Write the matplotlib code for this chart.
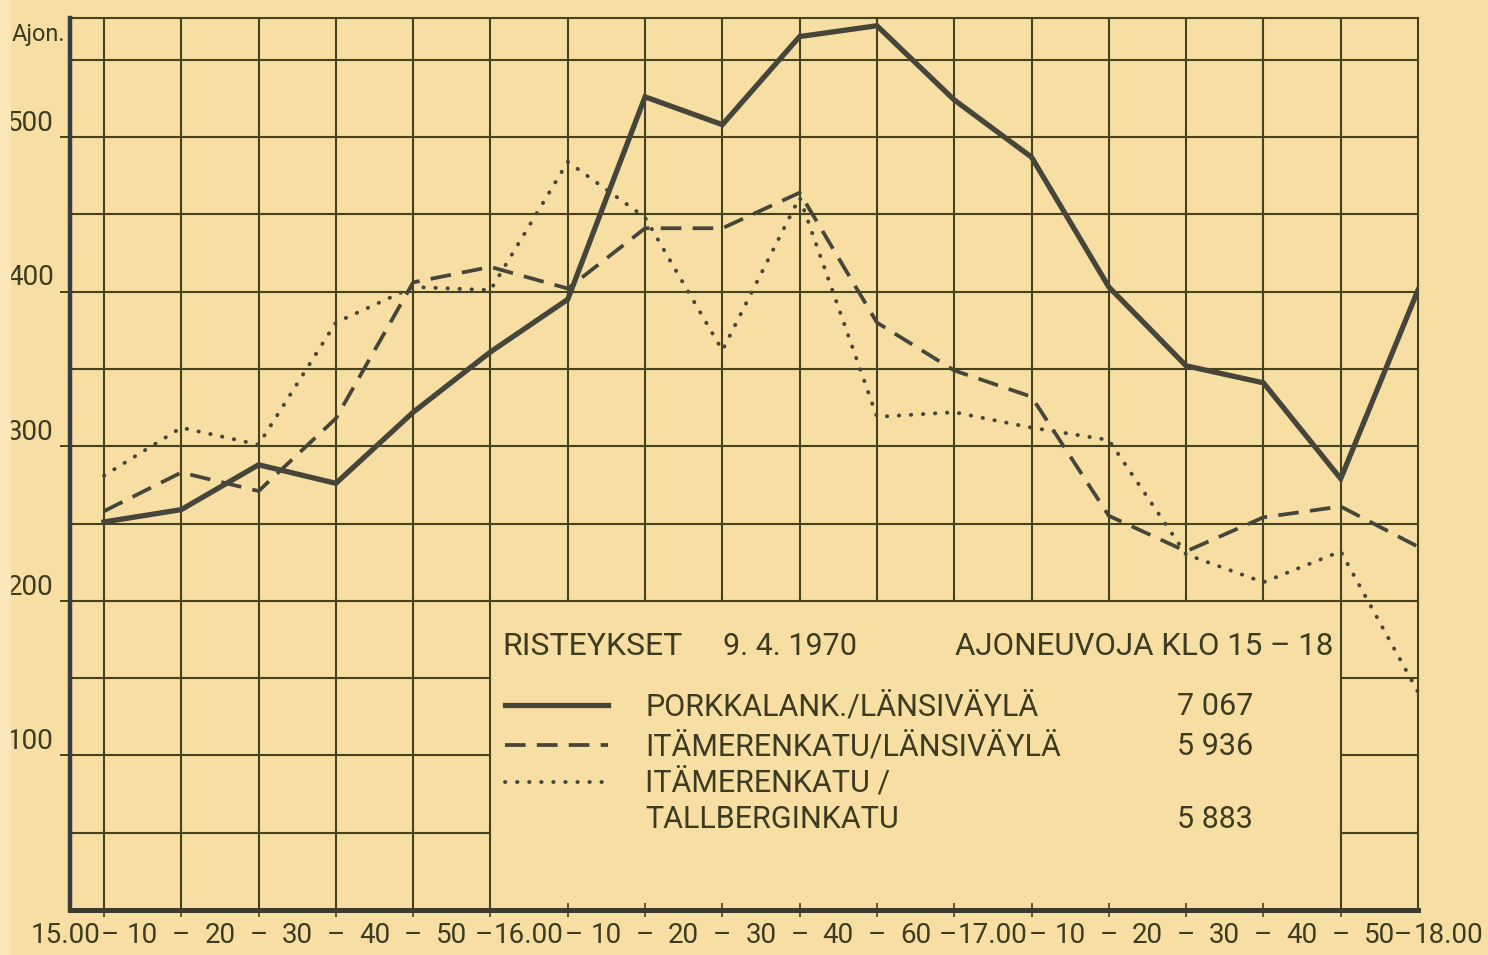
import matplotlib
matplotlib.use("Agg")
import matplotlib.pyplot as plt
from matplotlib.patches import Rectangle

# Vehicles per 10 minutes at three junctions, 9.4.1970, 15.00-18.00
period_labels = ["15.00", "10", "20", "30", "40", "50", "16.00", "10", "20", "30",
                 "40", "60", "17.00", "10", "20", "30", "40", "50", "18.00"]
porkkala = [251, 259, 288, 276, 322, 361, 395, 526, 508, 565, 572, 524,
            487, 403, 352, 341, 279, 401]
itameri_lansi = [258, 283, 271, 318, 406, 416, 402, 441, 441, 464, 380, 349,
                 332, 255, 232, 254, 261, 235]
itameri_tallberg = [281, 312, 301, 380, 403, 401, 484, 448, 362, 461, 319, 322,
                    312, 304, 230, 212, 232, 141]
series_names = ["PORKKALANK./LÄNSIVÄYLÄ", "ITÄMERENKATU/LÄNSIVÄYLÄ",
                "ITÄMERENKATU /", "TALLBERGINKATU"]
series_totals = ["7 067", "5 936", "5 883"]
y_labels = [100, 200, 300, 400, 500]

PAPER = "#f7dea2"
INK = "#3d3b22"
GRID = "#45421f"
LINE = "#45453a"
FONT = "Roboto"

SOLID = dict(color=LINE, lw=3.8, solid_joinstyle="miter", zorder=4)
DASHED = dict(color=LINE, lw=2.7, linestyle=(0, (5.5, 3.0)), zorder=4)
DOTTED = dict(color=LINE, lw=2.8, linestyle=(0, (0.1, 3.0)),
              dash_capstyle="round", zorder=4)

fig = plt.figure(figsize=(14.88, 9.55), dpi=100, facecolor=PAPER)
fig.patches.append(Rectangle((0, 0), 0.007, 1, transform=fig.transFigure,
                             color="#fae6b8", zorder=0))
ax = fig.add_axes([70 / 1488, 45 / 955, 1348 / 1488, 892 / 955])
ax.set_facecolor(PAPER)

n = len(porkkala)
x = list(range(n))
top = 577
ax.set_xlim(-0.44, n - 1)
ax.set_ylim(0, top)

# grid, left open where the key box sits (below 200, between columns 5 and 16)
for i in range(n - 1):
    low = 200 if 6 <= i <= 15 else 0
    ax.vlines(i, low, top, color=GRID, lw=1.5, zorder=1)
for v in range(50, 551, 50):
    if v < 200:
        ax.hlines(v, -0.44, 5, color=GRID, lw=1.5, zorder=1)
        ax.hlines(v, 16, n - 1, color=GRID, lw=1.5, zorder=1)
    else:
        ax.hlines(v, -0.44, n - 1, color=GRID, lw=1.5, zorder=1)

for side in ("top", "right"):
    ax.spines[side].set_linewidth(1.5)
    ax.spines[side].set_color(GRID)
ax.spines["left"].set_linewidth(3.2)
ax.spines["left"].set_color("#3a3a40")
ax.spines["bottom"].set_linewidth(3.6)
ax.spines["bottom"].set_color("#3c3b2c")

ax.set_xticks(x[:-1])
ax.set_xticklabels([])
ax.tick_params(axis="x", direction="inout", length=10, width=1.2, color=GRID)
ax.set_yticks(y_labels)
ax.set_yticklabels([])
ax.tick_params(axis="y", direction="out", length=7, width=1.4, color=GRID)

# data lines
ax.plot(x, porkkala, **SOLID)
ax.plot(x, itameri_lansi, **DASHED)
ax.plot(x, itameri_tallberg, **DOTTED)

# time labels along the bottom: numbers between columns, dashes on the columns
xt = ax.get_xaxis_transform()
last = len(period_labels) - 1
for k, lab in enumerate(period_labels):
    pos = k - 0.5 if k < last else k - 0.6
    ax.text(pos, -0.037, lab, transform=xt, ha="center", va="baseline",
            fontsize=20, family=FONT, color=INK, clip_on=False)
hours = {k for k, lab in enumerate(period_labels) if "." in lab}
for k in range(n):
    pos = k
    if k + 1 in hours:      # dash just before an hour label
        pos -= 0.08
    if k in hours:          # dash just after an hour label
        pos += 0.08
    if k == n - 1:
        pos = k - 0.2
    ax.text(pos, -0.037, "–", transform=xt, ha="center", va="baseline",
            fontsize=20, family=FONT, color=INK, clip_on=False)

for v in y_labels:
    ax.text(-0.65, v + 4, str(v), ha="right", va="baseline", fontsize=20,
            family=FONT, color=INK, clip_on=False)
ax.text(-0.5, 562, "Ajon.", ha="right", va="baseline", fontsize=17,
        family=FONT, color=INK, clip_on=False)

# key box
ax.text(5.16, 164.7, "RISTEYKSET", fontsize=23, family=FONT, color=INK)
ax.text(8.01, 164.7, "9. 4. 1970", fontsize=22, family=FONT, color=INK)
ax.text(11.01, 164.7, "AJONEUVOJA KLO 15 – 18", fontsize=22.5,
        family=FONT, color=INK)

ax.plot([5.19, 6.52], [132.4, 132.4], **SOLID)
ax.plot([5.19, 6.52], [106.6, 106.6], **DASHED)
ax.plot([5.19, 6.52], [82.7, 82.7], **DOTTED)

for name, yb in zip(series_names, [126.0, 100.1, 76.9, 53.0]):
    ax.text(7.0, yb, name, fontsize=22, family=FONT, color=INK)
for total, yb in zip(series_totals, [126.0, 100.1, 53.0]):
    ax.text(13.88, yb, total, fontsize=22, family=FONT, color=INK)

fig.savefig("out.png", dpi=100, facecolor=PAPER)
